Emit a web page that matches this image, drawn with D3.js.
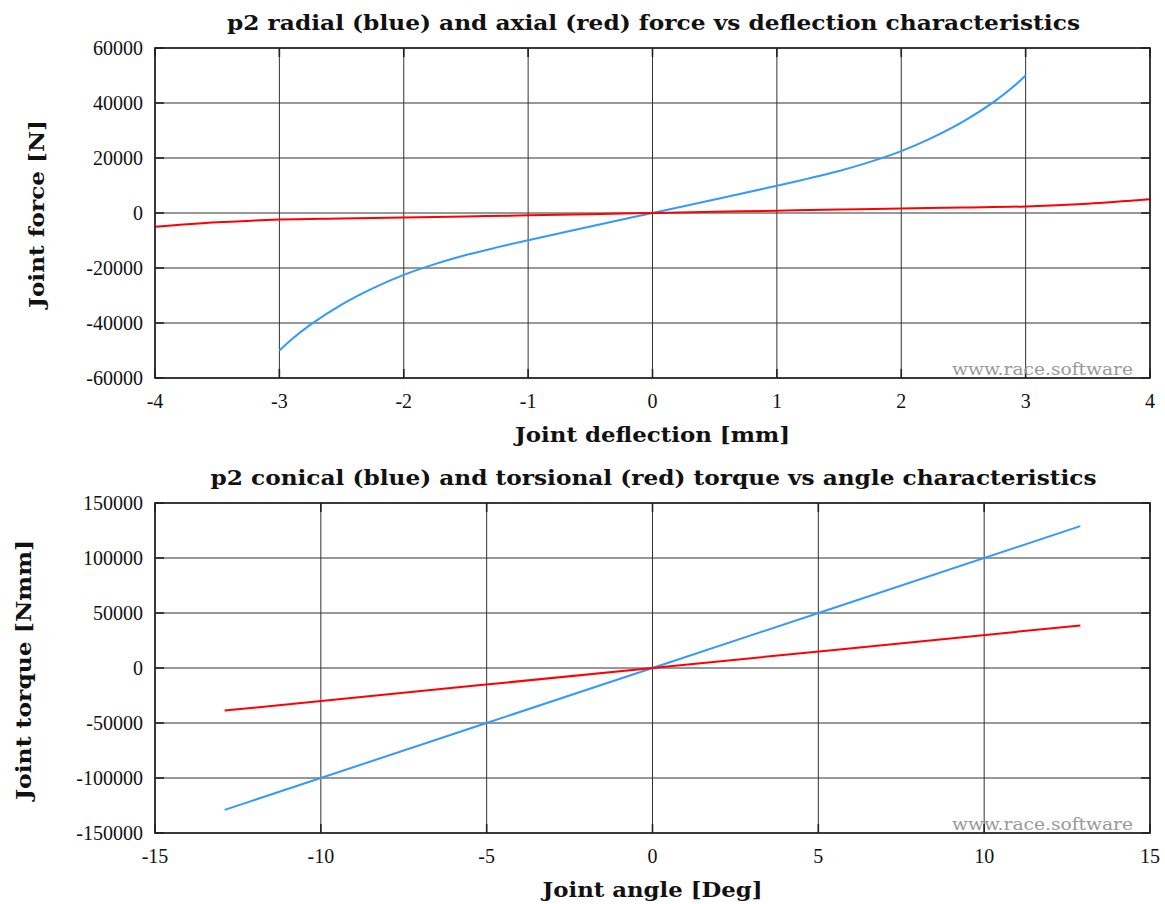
<!DOCTYPE html>
<html><head><meta charset="utf-8">
<script src="https://cdn.jsdelivr.net/npm/d3@7"></script>
<style>body{margin:0;background:#fff}svg{display:block}text{font-family:"Liberation Serif","DejaVu Serif",serif}</style>
</head><body><svg id="c" width="1165" height="904"></svg>
<script>
// Top chart data: force vs deflection
const radialX = [-3,-2.9,-2.75,-2.5,-2.25,-2,-1.75,-1.5,-1.25,-1,-0.5,0,0.5,1,1.25,1.5,1.75,2,2.25,2.5,2.75,2.9,3];
const radialY = [-50000,-45900,-40600,-33300,-27400,-22500,-18600,-15300,-12500,-9900,-4900,0,4900,9900,12500,15300,18600,22500,27400,33300,40600,45900,50000];
const axialX = [-4,-3.5,-3,-2.5,-2,-1.5,-1,-0.5,0,0.5,1,1.5,2,2.5,3,3.5,4];
const axialY = [-5000,-3400,-2400,-2000,-1650,-1250,-850,-420,0,420,850,1250,1650,2000,2400,3400,5000];
// Bottom chart data: torque vs angle
const conicalX = [-12.9,0,12.9];
const conicalY = [-129000,0,129000];
const torsionalX = [-12.9,0,12.9];
const torsionalY = [-38700,0,38700];
const topXTicks = [-4,-3,-2,-1,0,1,2,3,4];
const topYTicks = [-60000,-40000,-20000,0,20000,40000,60000];
const botXTicks = [-15,-10,-5,0,5,10,15];
const botYTicks = [-150000,-100000,-50000,0,50000,100000,150000];

const svg = d3.select('#c');
const BLUE = '#3399ff', RED = '#ff0000';
const BOLD = '"DejaVu Serif","Liberation Serif",serif';

function panel(cfg){
  const g = svg.append('g');
  const x = d3.scaleLinear().domain(cfg.xd).range([155,1150]);
  const y = d3.scaleLinear().domain(cfg.yd).range([cfg.y1,cfg.y0]);
  g.selectAll('.gx').data(cfg.xt).enter().append('line')
    .attr('x1',d=>x(d)).attr('x2',d=>x(d)).attr('y1',cfg.y0).attr('y2',cfg.y1)
    .attr('stroke','#333').attr('stroke-width',1);
  g.selectAll('.gy').data(cfg.yt).enter().append('line')
    .attr('y1',d=>y(d)).attr('y2',d=>y(d)).attr('x1',155).attr('x2',1150)
    .attr('stroke','#333').attr('stroke-width',1);
  const tl = 9;
  cfg.xt.forEach(d=>{
    g.append('line').attr('x1',x(d)).attr('x2',x(d)).attr('y1',cfg.y1).attr('y2',cfg.y1-tl).attr('stroke','#222').attr('stroke-width',1.6);
    g.append('line').attr('x1',x(d)).attr('x2',x(d)).attr('y1',cfg.y0).attr('y2',cfg.y0+tl).attr('stroke','#222').attr('stroke-width',1.6);
  });
  cfg.yt.forEach(d=>{
    g.append('line').attr('y1',y(d)).attr('y2',y(d)).attr('x1',155).attr('x2',155+tl).attr('stroke','#222').attr('stroke-width',1.6);
    g.append('line').attr('y1',y(d)).attr('y2',y(d)).attr('x1',1150).attr('x2',1150-tl).attr('stroke','#222').attr('stroke-width',1.6);
  });
  const line = d3.line().x(d=>x(d[0])).y(d=>y(d[1])).curve(d3.curveCatmullRom.alpha(0.5));
  cfg.series.forEach(s=>{
    g.append('path').datum(s.x.map((v,i)=>[v,s.y[i]])).attr('d',line)
      .attr('fill','none').attr('stroke',s.c).attr('stroke-width',2);
  });
  g.append('rect').attr('x',155).attr('y',cfg.y0).attr('width',995).attr('height',cfg.y1-cfg.y0)
    .attr('fill','none').attr('stroke','#222').attr('stroke-width',1.6);
  g.append('text').attr('x',1133).attr('y',cfg.y1-3).attr('text-anchor','end')
    .style('font-family',BOLD).attr('font-size',17).attr('fill','#999')
    .attr('textLength',181).attr('lengthAdjust','spacingAndGlyphs').text('www.race.software');
  g.selectAll('.tx').data(cfg.xt).enter().append('text')
    .attr('x',d=>x(d)).attr('y',cfg.y1+30).attr('text-anchor','middle').attr('font-size',20).attr('fill','#111')
    .text(d=>d);
  g.selectAll('.ty').data(cfg.yt).enter().append('text')
    .attr('x',143).attr('y',d=>y(d)+7).attr('text-anchor','end').attr('font-size',20).attr('fill','#111')
    .text(d=>d);
  const bold = (sel, len) => sel.style('font-family',BOLD).attr('font-size',21).attr('font-weight','bold')
    .attr('fill','#111').attr('textLength',len).attr('lengthAdjust','spacingAndGlyphs');
  bold(g.append('text').attr('x',653.5).attr('y',cfg.y0-18).attr('text-anchor','middle'),cfg.tlen).text(cfg.title);
  bold(g.append('text').attr('x',652.5).attr('y',cfg.y1+64).attr('text-anchor','middle'),cfg.xlen).text(cfg.xlabel);
  bold(g.append('text').attr('transform',`translate(${cfg.ylx},${cfg.ylc}) rotate(-90)`).attr('text-anchor','middle'),cfg.ylen).text(cfg.ylabel);
}

panel({xd:[-4,4],yd:[-60000,60000],y0:48,y1:378,xt:topXTicks,yt:topYTicks,
  title:'p2 radial (blue) and axial (red) force vs deflection characteristics',tlen:853,
  xlabel:'Joint deflection [mm]',xlen:275,ylabel:'Joint force [N]',ylen:188,ylx:44,ylc:214,
  series:[{x:radialX,y:radialY,c:BLUE},{x:axialX,y:axialY,c:RED}]});
panel({xd:[-15,15],yd:[-150000,150000],y0:503,y1:833,xt:botXTicks,yt:botYTicks,
  title:'p2 conical (blue) and torsional (red) torque vs angle characteristics',tlen:886,
  xlabel:'Joint angle [Deg]',xlen:220,ylabel:'Joint torque [Nmm]',ylen:260,ylx:31,ylc:670,
  series:[{x:conicalX,y:conicalY,c:BLUE},{x:torsionalX,y:torsionalY,c:RED}]});
</script></body></html>
